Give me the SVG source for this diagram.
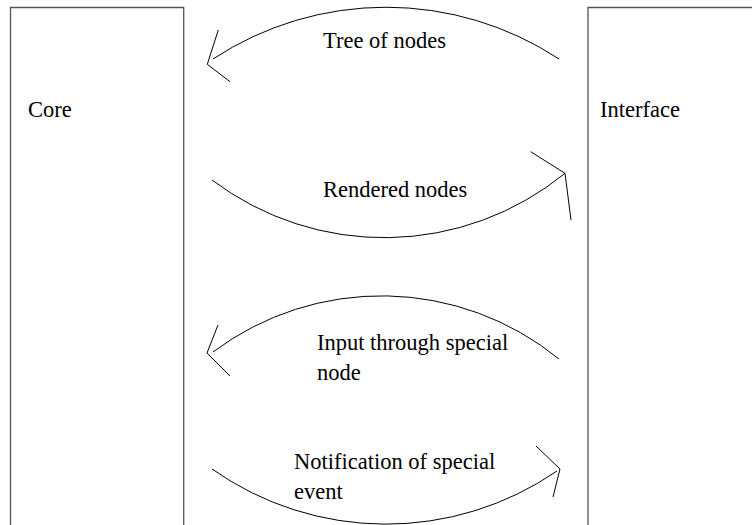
<svg xmlns="http://www.w3.org/2000/svg" width="752" height="525" viewBox="0 0 752 525">
<style>
.box{fill:none;stroke:#555;stroke-width:1.3}
.c{fill:none;stroke:#000;stroke-width:1}
</style>
<rect x="0" y="0" width="752" height="525" fill="#fff"/>
<g font-family="Liberation Serif, DejaVu Serif, serif" font-size="22.5" fill="#000">
<g id="core">
<path class="box" d="M10.5 530 V7.5 H183.7 V530"/>
<text x="28" y="117">Core</text>
</g>
<g id="interface">
<path class="box" d="M588 530 V7.5 H760"/>
<text x="600" y="117">Interface</text>
</g>
<g id="connectors">
<path class="c" d="M559 59 A315 315 0 0 0 213 59"/>
<polyline class="c" points="218.3,30 207.3,64.3 230,81.7"/>
<path class="c" d="M212 180 A286 286 0 0 0 565 173.3"/>
<polyline class="c" points="530.7,151.7 565,173.3 571,220"/>
<path class="c" d="M559 359 A281 281 0 0 0 213 352"/>
<polyline class="c" points="218,325 207,353 230,376"/>
<path class="c" d="M212 469 A302 302 0 0 0 557 471"/>
<polyline class="c" points="536,446 560,469 553,497"/>
</g>
<g id="labels">
<text x="323" y="48">Tree of nodes</text>
<text x="323" y="197">Rendered nodes</text>
<text x="317" y="350">Input through special</text>
<text x="317" y="380">node</text>
<text x="294" y="469">Notification of special</text>
<text x="294" y="499">event</text>
</g>
</g>
</svg>
